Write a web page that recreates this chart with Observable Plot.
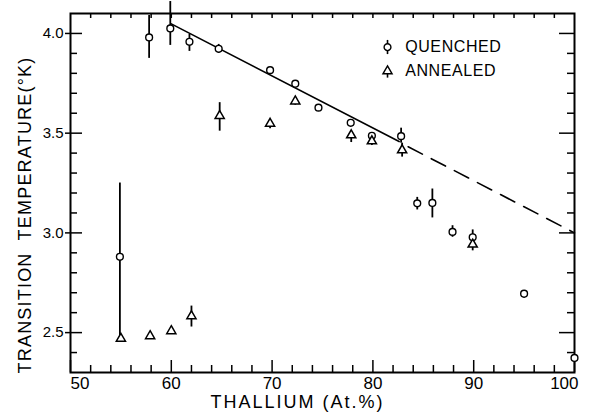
<!DOCTYPE html>
<html>
<head>
<meta charset="utf-8">
<script src="https://cdn.jsdelivr.net/npm/d3@7"></script>
<script src="https://cdn.jsdelivr.net/npm/@observablehq/plot@0.6"></script>
<style>
  html, body { margin: 0; padding: 0; background: white; }
  svg text { -webkit-font-smoothing: antialiased; }
</style>
</head>
<body>
<div id="chart"></div>
<script>
// Quenched samples
const quenchedX = [54.9, 57.8, 59.9, 61.8, 64.7, 69.8, 72.3, 74.6, 77.8, 79.9, 82.8, 84.4, 85.9, 87.9, 89.9, 95.0, 100];
const quenchedY = [2.88, 3.98, 4.025, 3.958, 3.923, 3.816, 3.748, 3.628, 3.552, 3.487, 3.485, 3.148, 3.15, 3.005, 2.978, 2.695, 2.373];
// Annealed samples
const annealedX = [55.0, 57.9, 60.0, 62.0, 64.8, 69.8, 72.3, 77.85, 79.9, 82.9, 89.9];
const annealedY = [2.47, 2.483, 2.508, 2.583, 3.587, 3.548, 3.66, 3.49, 3.46, 3.415, 2.942];
// Error bars (x, low, high)
const errX  = [54.9, 57.8, 59.9, 61.8, 64.7, 82.8, 84.4, 85.9, 87.9, 89.9, 95.0, 100, 62.0, 64.8, 69.8, 72.3, 77.85, 79.9, 82.9, 89.9];
const errLo = [2.47, 3.875, 3.94, 3.91, 3.90, 3.45, 3.115, 3.075, 2.978, 2.96, 2.672, 2.35, 2.528, 3.51, 3.522, 3.64, 3.453, 3.438, 3.38, 2.91];
const errHi = [3.25, 4.09, 4.16, 3.995, 3.945, 3.525, 3.178, 3.22, 3.036, 3.015, 2.70, 2.38, 2.633, 3.653, 3.55, 3.67, 3.49, 3.47, 3.45, 2.95];
// Fitted line: solid part and dashed extrapolation
const solidX = [60, 82.6];
const solidY = [4.048, 3.458];
const dashX = [83.5, 100];
const dashY = [3.432, 3.0];
// Axis ticks and labels
const xMajor = [50, 60, 70, 80, 90, 100];
const xMinor = [52, 54, 56, 58, 62, 64, 66, 68, 72, 74, 76, 78, 82, 84, 86, 88, 92, 94, 96, 98];
const xAll = [52, 54, 56, 58, 60, 62, 64, 66, 68, 70, 72, 74, 76, 78, 80, 82, 84, 86, 88, 90, 92, 94, 96, 98];
const yMajor = [2.5, 3.0, 3.5, 4.0];
const yMinor = [2.4, 2.6, 2.7, 2.8, 2.9, 3.1, 3.2, 3.3, 3.4, 3.6, 3.7, 3.8, 3.9];
const xTickLabels = ["50", "60", "70", "80", "90", "100"];
const yTickLabels = ["2.5", "3.0", "3.5", "4.0"];
const xTitle = "THALLIUM (At.%)";
const yTitle = "TRANSITION  TEMPERATURE(°K)";
// Legend
const legendLabels = ["QUENCHED", "ANNEALED"];
const legendSymbols = ["circle", "triangle"];
const legendMarkX = [81.45, 81.45];
const legendTextX = [83.2, 83.2];
const legendY = [3.931, 3.811];
const legendBarLo = [3.894, 3.776];
const legendBarHi = [3.965, 3.80];

const W = 590, H = 413, mL = 70, mR = 16, mT = 13, mB = 41;
const innerW = W - mL - mR, innerH = H - mT - mB;

const quenched = quenchedX.map((x, i) => ({x, y: quenchedY[i]}));
const annealed = annealedX.map((x, i) => ({x, y: annealedY[i]}));
const errs = errX.map((x, i) => ({x, lo: errLo[i], hi: errHi[i]}));
const solid = solidX.map((x, i) => ({x, y: solidY[i]}));
const dashed = dashX.map((x, i) => ({x, y: dashY[i]}));
const legend = legendLabels.map((label, i) => ({label, symbol: legendSymbols[i], mx: legendMarkX[i], tx: legendTextX[i], y: legendY[i], lo: legendBarLo[i], hi: legendBarHi[i]}));
const xLab = xMajor.map((v, i) => ({v, t: xTickLabels[i]}));
const yLab = yMajor.map((v, i) => ({v, t: yTickLabels[i]}));

const tickStyle = {stroke: "black", strokeWidth: 1.5};

const chart = Plot.plot({
  width: W, height: H,
  marginLeft: mL, marginRight: mR, marginTop: mT, marginBottom: mB,
  x: {domain: [50, 100], axis: null},
  y: {domain: [2.3, 4.1], axis: null},
  style: {fontFamily: "'Liberation Sans', Arial, sans-serif", background: "white", color: "black"},
  marks: [
    // ticks
    Plot.ruleX(xMajor, {x: d => d, insetTop: innerH - 12, ...tickStyle}),
    Plot.ruleX(xMinor, {x: d => d, insetTop: innerH - 7, ...tickStyle}),
    Plot.ruleX(xAll, {x: d => d, insetBottom: innerH - 5, ...tickStyle}),
    Plot.ruleY(yMajor, {y: d => d, insetLeft: -5, insetRight: innerW - 12, ...tickStyle}),
    Plot.ruleY(yMinor, {y: d => d, insetRight: innerW - 7, ...tickStyle}),
    Plot.ruleY(yMajor, {y: d => d, insetLeft: innerW - 15, ...tickStyle}),
    Plot.ruleY(yMinor, {y: d => d, insetLeft: innerW - 7, ...tickStyle}),
    Plot.frame({stroke: "black", strokeWidth: 2}),
    // tick labels
    Plot.text(xLab.slice(1, 5), {x: "v", text: "t", frameAnchor: "bottom", lineAnchor: "top", dy: 4, fontSize: 17, fill: "black"}),
    Plot.text(xLab.slice(0, 1), {x: "v", text: "t", frameAnchor: "bottom", lineAnchor: "top", textAnchor: "start", dy: 4, fontSize: 17, fill: "black"}),
    Plot.text(xLab.slice(5), {x: "v", text: "t", frameAnchor: "bottom", lineAnchor: "top", textAnchor: "end", dx: 4, dy: 4, fontSize: 17, fill: "black"}),
    Plot.text(yLab, {y: "v", text: "t", frameAnchor: "left", textAnchor: "end", dx: -7, fontSize: 15, fill: "black"}),
    // titles
    Plot.text([xTitle], {text: d => d, frameAnchor: "bottom", textAnchor: "middle", lineAnchor: "middle", dx: -25, dy: 30, fontSize: 18, fill: "black"}),
    Plot.text([yTitle], {text: d => d, frameAnchor: "left", textAnchor: "middle", lineAnchor: "middle", rotate: -90, dx: -45, dy: 22, fontSize: 18, fill: "black"}),
    // fitted line
    Plot.line(solid, {x: "x", y: "y", stroke: "black", strokeWidth: 1.6}),
    Plot.line(dashed, {x: "x", y: "y", stroke: "black", strokeWidth: 1.6, strokeDasharray: "16,10"}),
    // error bars
    Plot.ruleX(errs, {x: "x", y1: "lo", y2: "hi", stroke: "black", strokeWidth: 1.8}),
    // markers
    Plot.dot(quenched, {x: "x", y: "y", symbol: "circle", r: 3.4, fill: "white", stroke: "black", strokeWidth: 1.4}),
    Plot.dot(annealed, {x: "x", y: "y", symbol: "triangle", r: 3.4, fill: "white", stroke: "black", strokeWidth: 1.5}),
    // legend
    Plot.ruleX(legend, {x: "mx", y1: "lo", y2: "hi", stroke: "black", strokeWidth: 1.6}),
    Plot.dot(legend, {x: "mx", y: "y", symbol: "symbol", r: 3.4, fill: "white", stroke: "black", strokeWidth: 1.4}),
    Plot.text(legend, {x: "tx", y: "y", text: "label", textAnchor: "start", fontSize: 16, fill: "black"})
  ]
});
// letter spacing to match the wide stencil lettering of the original
const spacing = {[xTitle]: "2px", [yTitle]: "1.2px", "QUENCHED": "0.6px", "ANNEALED": "0.6px"};
d3.select(chart).selectAll("text").each(function() {
  const s = spacing[this.textContent];
  if (s) this.style.letterSpacing = s;
});
document.getElementById("chart").appendChild(chart);
</script>
</body>
</html>
